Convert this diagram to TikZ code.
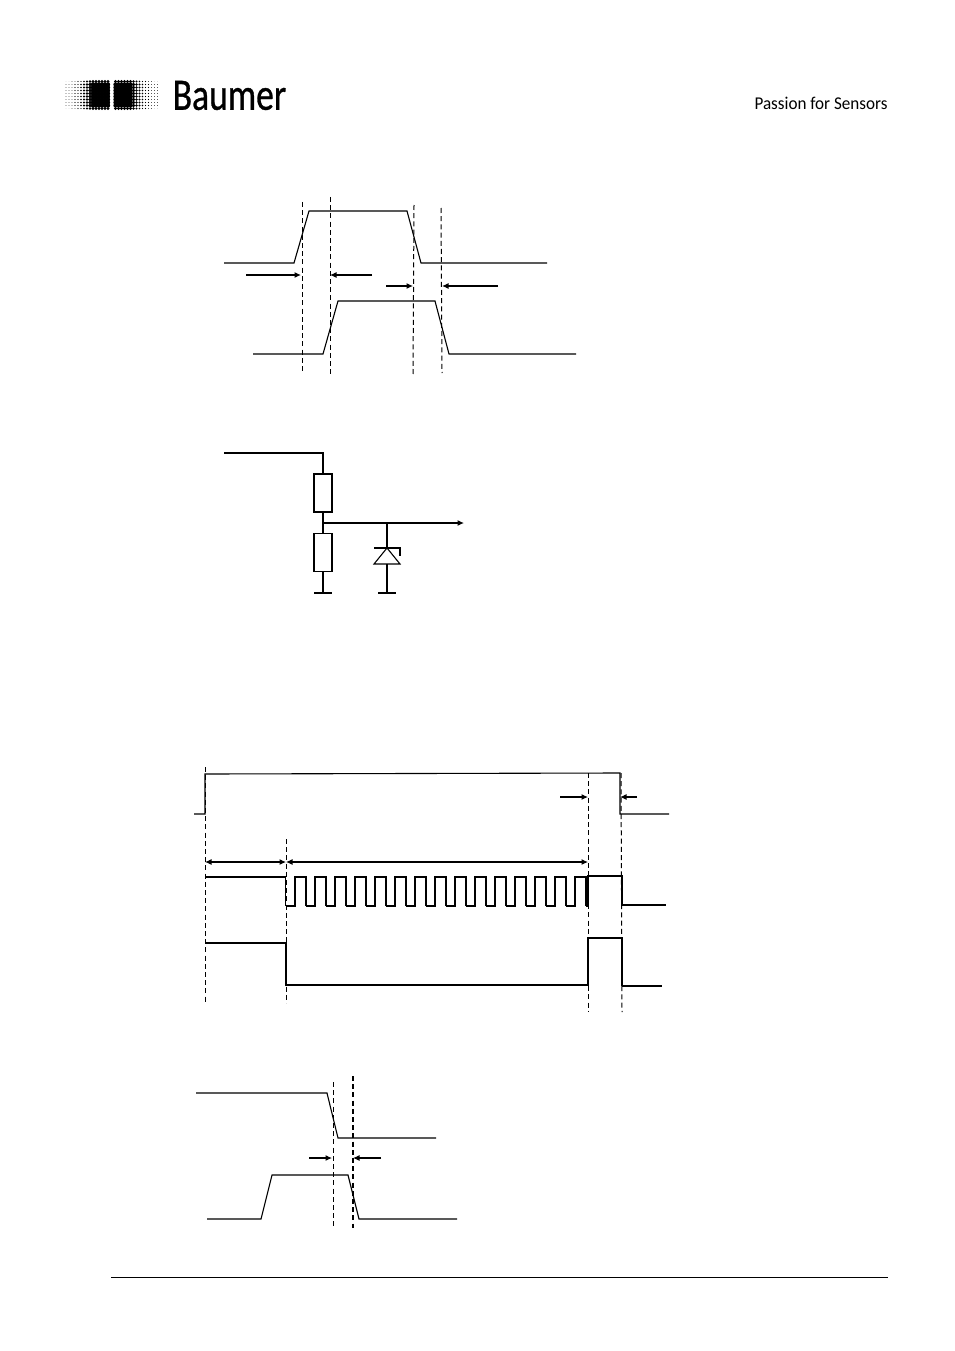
\documentclass[tikz,border=0pt]{standalone}
\usepackage{fontspec}
\setmainfont{Carlito}
\newfontfamily\brandfont[FakeBold=0.8]{Carlito}
\usetikzlibrary{arrows.meta,calc}

\tikzset{
  waveline/.style={line width=1.1pt,line join=miter},
  cutline/.style={line width=1pt,dash pattern=on 5pt off 3.2pt},
  measure/.style={line width=1.1pt,-{Latex[length=6.5pt,width=6pt]}},
  both measure/.style={line width=1.1pt,{Latex[length=6.5pt,width=6pt]}-{Latex[length=6.5pt,width=6pt]}},
  resbox/.style={draw,line width=1.1pt,minimum width=18pt,minimum height=38pt,inner sep=0pt}
}

\begin{document}
\begin{tikzpicture}[x=1pt,y=-1pt]
\useasboundingbox (0,0) rectangle (954,1351);
\fill[white] (0,0) rectangle (954,1351);

% logo and header
\foreach \i in {0,...,14}{
  \foreach \j in {0,...,9}{
    \pgfmathsetmacro{\dotsize}{min(2.2,0.3+0.024*\i*\i)*(\j==0||\j==9?0.75:1)}
    \fill (66+3*\i,81.5+3*\j) circle (\dotsize);
    \fill (157.5-3*\i,81.5+3*\j) circle (\dotsize);
  }
}
\node (brand) at (229.5,95.5) [inner sep=0pt,font=\fontsize{45}{45}\brandfont,xscale=0.79] {Baumer};
\node (slogan) at (821,103) [inner sep=0pt,font=\fontsize{18}{18}\selectfont,xscale=0.95] {Passion for Sensors};
\draw[line width=1pt] (111,1277) -- (888,1277);

% first timing
\draw[waveline] (224,263) -- (294,263) -- (309,211) -- (407,211) -- (421,263) -- (547,263);
\draw[waveline] (253,354) -- (323,354) -- (338,301) -- (435,301) -- (449,354) -- (576,354);
\draw[cutline] (302,202) -- (302,374);
\draw[cutline] (330,197) -- (330,375);
\draw[cutline] (414,205) -- (413,377);
\draw[cutline] (441,208) -- (442,373);
\coordinate (A1) at (246,275);
\coordinate (A2) at (301,275);
\coordinate (A3) at (372,275);
\coordinate (A4) at (330,275);
\coordinate (A5) at (386,286);
\coordinate (A6) at (413,286);
\coordinate (A7) at (498,286);
\coordinate (A8) at (442,286);
\draw[measure] (A1) -- (A2);
\draw[measure] (A3) -- (A4);
\draw[measure] (A5) -- (A6);
\draw[measure] (A7) -- (A8);

% circuit
\coordinate (C0) at (224,453);
\coordinate (C1) at (323,453);
\node (R1) at (323,493) [resbox] {};
\coordinate (J1) at (323,523);
\node (R2) at (323,552.5) [resbox] {};
\coordinate (G1) at (323,593);
\coordinate (J2) at (387,523);
\coordinate (C2) at (464,523);
\coordinate (Z1) at (387,548);
\coordinate (Z2) at (387,564);
\coordinate (G2) at (387,593);
\draw[line width=1.1pt] (C0) -- (C1) -- (R1.north);
\draw[line width=1.1pt] (R1.south) -- (J1) -- (R2.north);
\draw[line width=1.1pt] (R2.south) -- (G1);
\draw[measure] (J1) -- (C2);
\draw[line width=1.5pt] (J2) -- (Z1);
\draw[line width=1.5pt] (Z2) -- (G2);
\draw[line width=1.1pt] (Z1) -- (374,564) -- (400,564) -- cycle;
\draw[line width=1.1pt] (374,548) -- (400,548) -- (400,556);
\draw[line width=1.1pt] (314,593) -- (332,593);
\draw[line width=1.1pt] (378,593) -- (396,593);

% second timing
\draw[waveline] (194,814) -- (205,814) -- (205,774) -- (620,773) -- (620,814) -- (669,814);
\draw[waveline] (205,877) -- (285.5,877) -- (285.5,906);
\foreach \k in {0,...,14}{
  \draw[waveline] (285.5+20*\k,906) -- (295+20*\k,906) -- (295+20*\k,877) -- (306+20*\k,877) -- (306+20*\k,906);
}
\draw[waveline] (586,906) -- (588,906) -- (588,876) -- (622,876) -- (622,905) -- (666,905);
\draw[waveline] (205,943) -- (286,943) -- (286,985) -- (588,985) -- (588,938) -- (622,938) -- (622,986);
\draw[line width=1.6pt] (622,986) -- (662,986);
\draw[cutline] (205,767) -- (205,1003);
\draw[cutline] (286,839) -- (286,1003);
\draw[cutline] (588,773) -- (588,1011);
\draw[cutline] (621,773) -- (622,1012);
\coordinate (B1) at (560,797);
\coordinate (B2) at (588,797);
\coordinate (B3) at (637,797);
\coordinate (B4) at (620,797);
\coordinate (B5) at (205,862);
\coordinate (B6) at (286,862);
\coordinate (B7) at (588,862);
\draw[measure] (B1) -- (B2);
\draw[measure] (B3) -- (B4);
\draw[both measure] (B5) -- (B6);
\draw[both measure] (B6) -- (B7);

% third timing
\draw[waveline] (196,1093) -- (327,1093) -- (338,1138) -- (436,1138);
\draw[waveline] (207,1219) -- (261,1219) -- (272,1175) -- (348,1175) -- (359,1219) -- (457,1219);
\draw[cutline] (333,1082) -- (333,1227);
\draw[cutline,line width=1.5pt] (353,1076) -- (353,1228);
\coordinate (D1) at (309,1158);
\coordinate (D2) at (332,1158);
\coordinate (D3) at (381,1158);
\coordinate (D4) at (353,1158);
\draw[measure] (D1) -- (D2);
\draw[measure] (D3) -- (D4);
\end{tikzpicture}
\end{document}
